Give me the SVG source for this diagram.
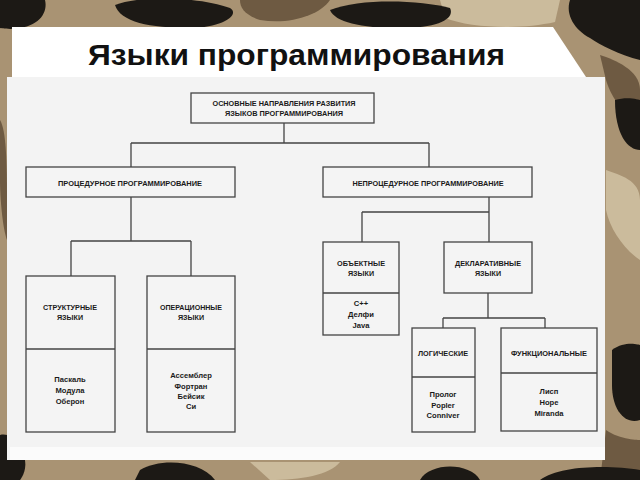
<svg xmlns="http://www.w3.org/2000/svg" width="640" height="480" viewBox="0 0 640 480">
<style>
.box{fill:#f4f4f4;stroke:#444;stroke-width:1.3}
.ln{fill:none;stroke:#444;stroke-width:1.3}
.h{font-family:"Liberation Sans",Arial,sans-serif;font-size:8px;font-weight:bold;fill:#1a1a1a;text-anchor:middle}
.i{font-family:"Liberation Sans",Arial,sans-serif;font-size:7.6px;font-weight:bold;fill:#1a1a1a;text-anchor:middle}
.dk{fill:#1c1915}
.br{fill:#6e5a42}
.lt{fill:#cbbb9c}
</style>
<g id="background">
<rect width="640" height="480" fill="#a99373"/>
<path class="lt" d="M440 0 H560 L555 22 C520 30 470 28 445 18 Z"/>
<path class="br" d="M240 0 H330 C320 15 290 25 260 20 C245 15 240 8 240 0 Z"/>
<path class="dk" d="M0 0 H45 C48 12 40 25 20 28 C10 30 0 28 0 28 Z"/>
<path class="dk" d="M115 5 C140 -5 200 -3 230 8 C240 14 225 27 190 28 C150 28 120 22 115 5 Z"/>
<path class="dk" d="M330 10 C360 -2 420 0 450 8 C455 18 440 28 400 28 C360 28 335 22 330 10 Z"/>
<path class="dk" d="M570 0 H640 V60 C620 55 600 45 590 38 C575 30 565 15 570 0 Z"/>
<path class="br" d="M600 55 C615 60 640 70 640 90 V120 C625 115 612 100 606 80 Z"/>
<path class="dk" d="M615 100 C628 96 640 100 640 100 V150 C628 150 615 135 615 100 Z"/>
<path class="lt" d="M606 170 C620 175 640 180 640 200 V260 C625 250 610 230 606 210 Z"/>
<path class="dk" d="M612 350 C625 340 640 345 640 345 V420 C625 425 612 410 612 385 Z"/>
<path class="br" d="M606 430 C620 440 640 440 640 440 V480 H600 Z"/>
<path class="dk" d="M0 435 C12 432 22 445 25 460 C27 472 20 480 20 480 H0 Z"/>
<path class="dk" d="M140 470 C160 458 200 460 215 480 H135 Z"/>
<path class="lt" d="M250 462 H340 C330 475 300 480 270 480 Z"/>
<path class="dk" d="M420 480 C430 462 470 462 480 480 Z"/>
<path class="dk" d="M540 480 C560 465 610 465 640 470 V480 Z"/>
<path class="br" d="M0 120 C6 130 7 160 7 200 V240 C3 230 0 200 0 180 Z"/>
</g>
<g id="title">
<path d="M12 27 H553 L588 80 H12 Z" fill="#ffffff"/>
<text x="88" y="65" font-family="'Liberation Sans',Arial,sans-serif" font-size="29" font-weight="bold" fill="#111" textLength="417" lengthAdjust="spacingAndGlyphs">Языки программирования</text>
</g>
<g id="panel">
<rect x="7" y="77" width="598" height="383" fill="#f3f3f3"/>
<rect x="10" y="447" width="595" height="13" fill="#fbfbfb"/>
</g>
<g id="connectors">
<path class="ln" d="M284 123 V143 M131 143 H429 M131 143 V167 M429 143 V167"/>
<path class="ln" d="M131 197 V241 M71 241 H191 M71 241 V276 M191 241 V276"/>
<path class="ln" d="M489 197 V212 M362 212 H489 M362 212 V242 M489 212 V242"/>
<path class="ln" d="M488 293 V318 M443 318 H545 M443 318 V328 M545 318 V328"/>
</g>
<g id="n-root">
<rect class="box" x="191" y="93" width="183" height="30"/>
<text class="h" x="284" y="106" textLength="143" lengthAdjust="spacingAndGlyphs">ОСНОВНЫЕ НАПРАВЛЕНИЯ РАЗВИТИЯ</text>
<text class="h" x="284" y="116" textLength="118" lengthAdjust="spacingAndGlyphs">ЯЗЫКОВ ПРОГРАММИРОВАНИЯ</text>
</g>
<g id="n-proc">
<rect class="box" x="26" y="167" width="209" height="30"/>
<text class="h" x="130" y="186" textLength="144" lengthAdjust="spacingAndGlyphs">ПРОЦЕДУРНОЕ ПРОГРАММИРОВАНИЕ</text>
</g>
<g id="n-nonproc">
<rect class="box" x="323" y="167" width="209" height="30"/>
<text class="h" x="428" y="186" textLength="151" lengthAdjust="spacingAndGlyphs">НЕПРОЦЕДУРНОЕ ПРОГРАММИРОВАНИЕ</text>
</g>
<g id="n-struct">
<rect class="box" x="26" y="276" width="89" height="156"/>
<path class="ln" d="M26 349 H115"/>
<text class="h" x="70" y="310" textLength="54" lengthAdjust="spacingAndGlyphs">СТРУКТУРНЫЕ</text>
<text class="h" x="70" y="320" textLength="26" lengthAdjust="spacingAndGlyphs">ЯЗЫКИ</text>
<text class="i" x="70" y="382">Паскаль</text>
<text class="i" x="70" y="393">Модула</text>
<text class="i" x="70" y="404">Оберон</text>
</g>
<g id="n-oper">
<rect class="box" x="147" y="276" width="88" height="156"/>
<path class="ln" d="M147 349 H235"/>
<text class="h" x="191" y="310" textLength="62" lengthAdjust="spacingAndGlyphs">ОПЕРАЦИОННЫЕ</text>
<text class="h" x="191" y="320" textLength="26" lengthAdjust="spacingAndGlyphs">ЯЗЫКИ</text>
<text class="i" x="191" y="378">Ассемблер</text>
<text class="i" x="191" y="389">Фортран</text>
<text class="i" x="191" y="399">Бейсик</text>
<text class="i" x="191" y="409">Си</text>
</g>
<g id="n-obj">
<rect class="box" x="323" y="242" width="76" height="93"/>
<path class="ln" d="M323 293 H399"/>
<text class="h" x="361" y="266" textLength="48" lengthAdjust="spacingAndGlyphs">ОБЪЕКТНЫЕ</text>
<text class="h" x="361" y="276" textLength="26" lengthAdjust="spacingAndGlyphs">ЯЗЫКИ</text>
<text class="i" x="361" y="306">С++</text>
<text class="i" x="361" y="317">Делфи</text>
<text class="i" x="361" y="328">Java</text>
</g>
<g id="n-decl">
<rect class="box" x="444" y="242" width="88" height="51"/>
<text class="h" x="488" y="266" textLength="66" lengthAdjust="spacingAndGlyphs">ДЕКЛАРАТИВНЫЕ</text>
<text class="h" x="488" y="276" textLength="26" lengthAdjust="spacingAndGlyphs">ЯЗЫКИ</text>
</g>
<g id="n-log">
<rect class="box" x="412" y="328" width="63" height="104"/>
<path class="ln" d="M412 377 H475"/>
<text class="h" x="443" y="356" textLength="50" lengthAdjust="spacingAndGlyphs">ЛОГИЧЕСКИЕ</text>
<text class="i" x="443" y="397">Пролог</text>
<text class="i" x="443" y="408">Popler</text>
<text class="i" x="443" y="418">Conniver</text>
</g>
<g id="n-func">
<rect class="box" x="501" y="328" width="96" height="103"/>
<path class="ln" d="M501 373 H597"/>
<text class="h" x="549" y="356" textLength="76" lengthAdjust="spacingAndGlyphs">ФУНКЦИОНАЛЬНЫЕ</text>
<text class="i" x="549" y="394">Лисп</text>
<text class="i" x="549" y="405">Hope</text>
<text class="i" x="549" y="416">Miranda</text>
</g>
</svg>
